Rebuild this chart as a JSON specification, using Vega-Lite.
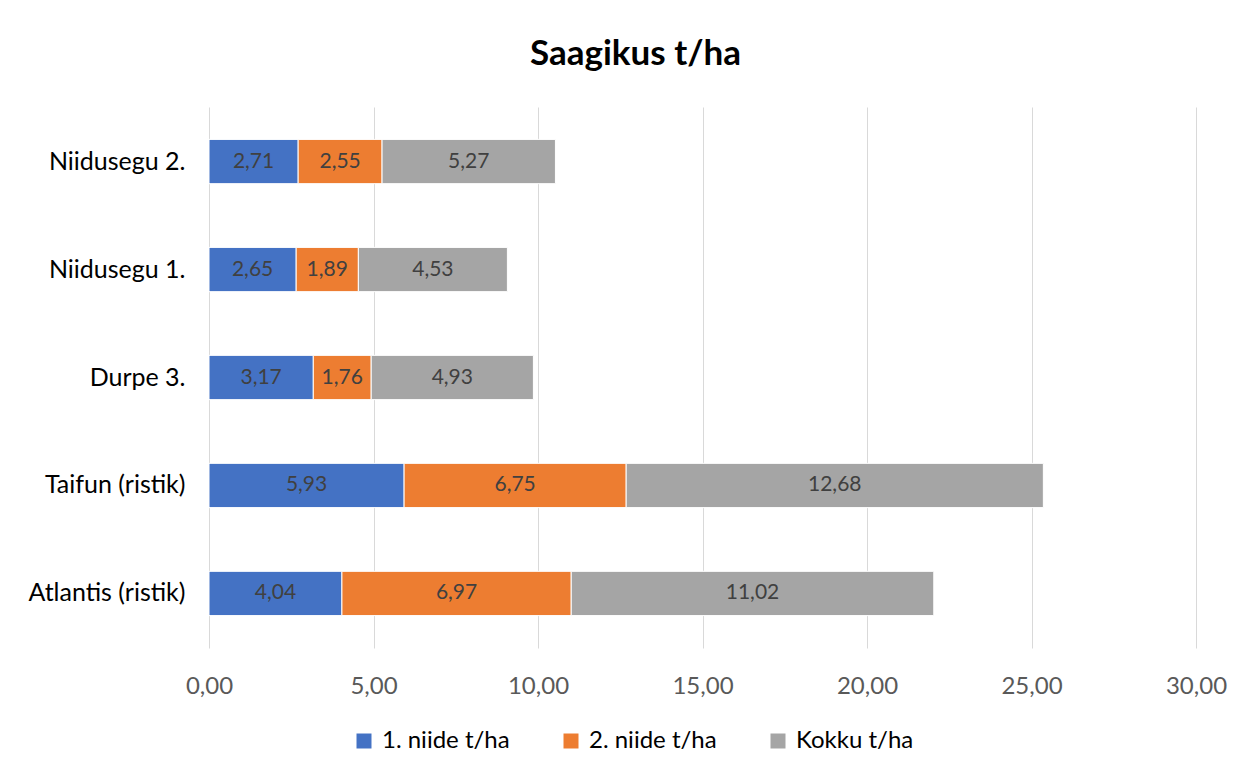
{
  "$schema": "https://vega.github.io/schema/vega-lite/v6.json",
  "width": 987,
  "height": 541,
  "autosize": {"type": "none"},
  "padding": {"left": 209, "top": 107, "right": 59, "bottom": 130},
  "background": "white",
  "config": {
    "locale": {"number": {"decimal": ",", "thousands": " ", "grouping": [3], "currency": ["", " €"]}},
    "font": "Lato",
    "view": {"stroke": null}
  },
  "title": {
    "text": "Saagikus t/ha",
    "fontSize": 35,
    "fontWeight": "bold",
    "font": "Lato",
    "color": "#000000",
    "anchor": "middle",
    "baseline": "alphabetic",
    "dx": -67,
    "offset": 7
  },
  "data": {
    "values": [
      {"kultuur": "Niidusegu 2.", "seeria": "1. niide t/ha", "jrk": 1, "vaartus": 2.71},
      {"kultuur": "Niidusegu 2.", "seeria": "2. niide t/ha", "jrk": 2, "vaartus": 2.55},
      {"kultuur": "Niidusegu 2.", "seeria": "Kokku t/ha", "jrk": 3, "vaartus": 5.27},
      {"kultuur": "Niidusegu 1.", "seeria": "1. niide t/ha", "jrk": 1, "vaartus": 2.65},
      {"kultuur": "Niidusegu 1.", "seeria": "2. niide t/ha", "jrk": 2, "vaartus": 1.89},
      {"kultuur": "Niidusegu 1.", "seeria": "Kokku t/ha", "jrk": 3, "vaartus": 4.53},
      {"kultuur": "Durpe 3.", "seeria": "1. niide t/ha", "jrk": 1, "vaartus": 3.17},
      {"kultuur": "Durpe 3.", "seeria": "2. niide t/ha", "jrk": 2, "vaartus": 1.76},
      {"kultuur": "Durpe 3.", "seeria": "Kokku t/ha", "jrk": 3, "vaartus": 4.93},
      {"kultuur": "Taifun (ristik)", "seeria": "1. niide t/ha", "jrk": 1, "vaartus": 5.93},
      {"kultuur": "Taifun (ristik)", "seeria": "2. niide t/ha", "jrk": 2, "vaartus": 6.75},
      {"kultuur": "Taifun (ristik)", "seeria": "Kokku t/ha", "jrk": 3, "vaartus": 12.68},
      {"kultuur": "Atlantis (ristik)", "seeria": "1. niide t/ha", "jrk": 1, "vaartus": 4.04},
      {"kultuur": "Atlantis (ristik)", "seeria": "2. niide t/ha", "jrk": 2, "vaartus": 6.97},
      {"kultuur": "Atlantis (ristik)", "seeria": "Kokku t/ha", "jrk": 3, "vaartus": 11.02}
    ]
  },
  "transform": [
    {"stack": "vaartus", "groupby": ["kultuur"], "sort": [{"field": "jrk", "order": "ascending"}], "as": ["v0", "v1"]},
    {"calculate": "(datum.v0 + datum.v1) / 2", "as": "vmid"}
  ],
  "encoding": {
    "y": {
      "field": "kultuur",
      "type": "nominal",
      "sort": ["Niidusegu 2.", "Niidusegu 1.", "Durpe 3.", "Taifun (ristik)", "Atlantis (ristik)"],
      "scale": {"paddingInner": 0.59, "paddingOuter": 0.3},
      "axis": {
        "title": null,
        "domain": false,
        "ticks": false,
        "labelFontSize": 25,
        "labelColor": "#000000",
        "labelPadding": 24,
        "labelFont": "Lato"
      }
    }
  },
  "layer": [
    {
      "mark": {"type": "bar", "stroke": "white", "strokeWidth": 1},
      "encoding": {
        "x": {
          "field": "v0",
          "type": "quantitative",
          "scale": {"domain": [0, 30], "nice": false},
          "axis": {
            "title": null,
            "values": [0, 5, 10, 15, 20, 25, 30],
            "format": ".2f",
            "domain": false,
            "ticks": false,
            "grid": true,
            "gridColor": "#d9d9d9",
            "gridWidth": 1,
            "labelFlush": false,
            "labelFontSize": 24,
            "labelColor": "#595959",
            "labelPadding": 26,
            "labelFont": "Lato"
          }
        },
        "x2": {"field": "v1"},
        "color": {
          "field": "seeria",
          "type": "nominal",
          "scale": {"domain": ["1. niide t/ha", "2. niide t/ha", "Kokku t/ha"], "range": ["#4472C4", "#ED7D31", "#A5A5A5"]},
          "legend": {
            "title": null,
            "orient": "none",
            "direction": "horizontal",
            "legendX": 143,
            "legendY": 622,
            "symbolType": "square",
            "symbolSize": 225,
            "symbolStrokeWidth": 0,
            "labelFontSize": 24,
            "labelColor": "#000000",
            "labelFont": "Lato",
            "labelOffset": 6,
            "gridAlign": "all",
            "columnPadding": 49
          }
        }
      }
    },
    {
      "mark": {"type": "text", "fontSize": 21, "color": "#404040", "font": "Lato", "baseline": "middle", "align": "center"},
      "encoding": {
        "x": {"field": "vmid", "type": "quantitative"},
        "text": {"field": "vaartus", "type": "quantitative", "format": ".2f"}
      }
    }
  ]
}
